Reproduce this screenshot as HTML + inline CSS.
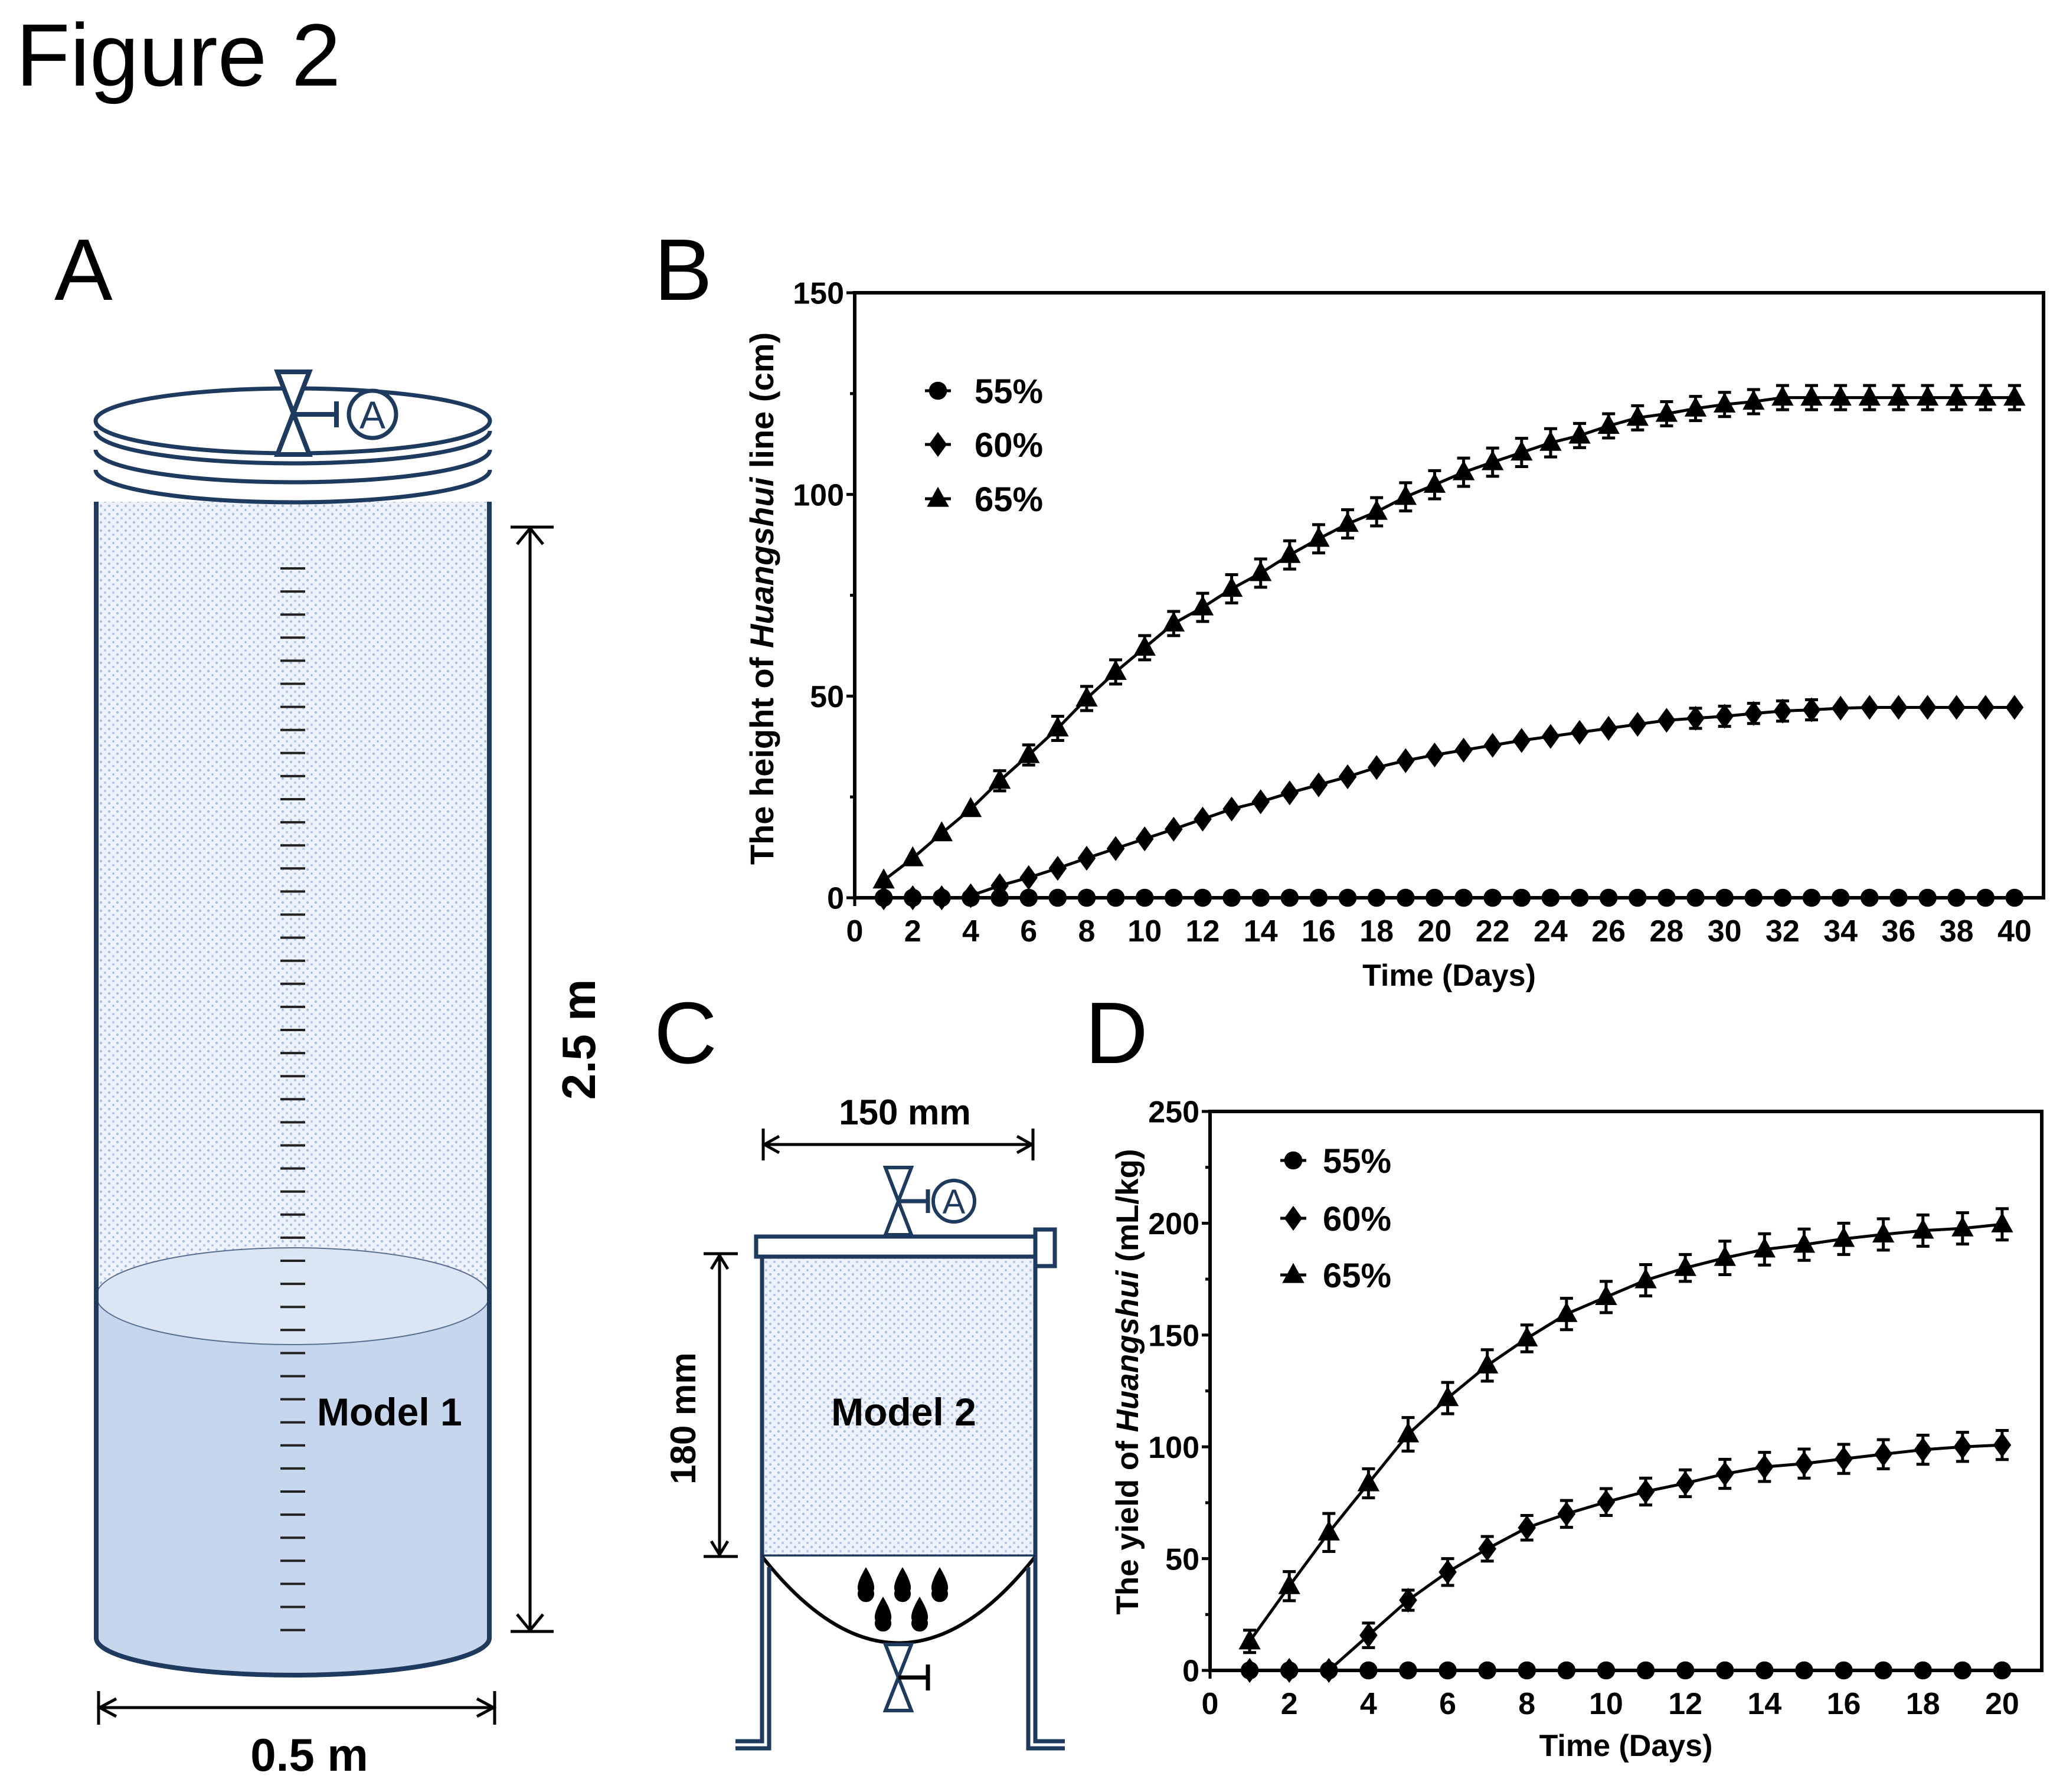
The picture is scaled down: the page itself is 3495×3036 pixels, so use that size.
<!DOCTYPE html>
<html><head><meta charset="utf-8"><style>
html,body{margin:0;padding:0;background:#fff;}
svg{display:block;}
text{font-family:"Liberation Sans",sans-serif;}
</style></head><body>
<svg id="fig" width="3495" height="3036" viewBox="0 0 3495 3036" xmlns="http://www.w3.org/2000/svg">
<defs>
<pattern id="dots" width="14" height="14" patternUnits="userSpaceOnUse">
<rect width="14" height="14" fill="#eef2fa"/>
<circle cx="3" cy="3" r="2.2" fill="#a9bfdf"/>
<circle cx="10" cy="10" r="2.2" fill="#b4c7e4"/>
</pattern>
</defs>
<text x="27" y="145" font-size="150">Figure 2</text>
<text x="92" y="508" font-size="148">A</text>
<text x="1108" y="508" font-size="148">B</text>
<text x="1108" y="1801" font-size="148">C</text>
<text x="1838" y="1801" font-size="148">D</text>

<!-- Panel A -->
<g stroke="#1f3a5f" fill="none">
<path d="M163 850 L163 2775 A333 63 0 0 0 829 2775 L829 850 Z" fill="url(#dots)" stroke="none"/>
<path d="M163 2196 L163 2775 A333 63 0 0 0 829 2775 L829 2196 Z" fill="#c6d6ec" stroke="none"/>
<ellipse cx="496" cy="2196" rx="333" ry="82" fill="#dbe6f4" stroke="#5a6f8f" stroke-width="2"/>
<path d="M163 850 L163 2775 A333 63 0 0 0 829 2775 L829 850" stroke-width="8"/>
<ellipse cx="496" cy="713" rx="334" ry="55" fill="#fff" stroke-width="7"/>
<path d="M162 730 A334 55 0 0 0 830 730" stroke-width="7"/>
<path d="M162 762 A334 55 0 0 0 830 762" stroke-width="7"/>
<path d="M162 796 A334 55 0 0 0 830 796" stroke-width="7"/>
<path d="M470 630 L524 630 L470 770 L524 770 Z" fill="#fff" stroke-width="8"/>
<line x1="497" y1="702" x2="570" y2="702" stroke-width="8"/>
<line x1="570" y1="680" x2="570" y2="724" stroke-width="8"/>
<circle cx="631" cy="702" r="40" fill="#fff" stroke-width="7"/>
<text x="631" y="726" font-size="66" text-anchor="middle" fill="#1f3a5f" stroke="none">A</text>
<g id="scale-ticks" stroke="#222" stroke-width="4"></g>
</g>
<text x="537" y="2415" font-size="66" font-weight="bold">Model 1</text>
<g stroke="#000" stroke-width="5" fill="none">
<line x1="898" y1="895" x2="898" y2="2762"/>
<line x1="865" y1="893" x2="938" y2="893"/><line x1="865" y1="2764" x2="938" y2="2764"/>
<polyline points="876,922 898,895 920,922"/><polyline points="876,2735 898,2762 920,2735"/>
<line x1="167" y1="2893" x2="838" y2="2893"/>
<line x1="167" y1="2865" x2="167" y2="2922"/><line x1="838" y1="2865" x2="838" y2="2922"/>
<polyline points="197,2878 169,2893 197,2908"/><polyline points="808,2878 836,2893 808,2908"/>
</g>
<text transform="translate(1008,1761) rotate(-90)" font-size="80" font-weight="bold" text-anchor="middle">2.5 m</text>
<text x="524" y="3000" font-size="78" font-weight="bold" text-anchor="middle">0.5 m</text>

<!-- Panel C -->
<g stroke="#1f3a5f" fill="none" stroke-width="7">
<rect x="1291" y="2129" width="463" height="508" fill="url(#dots)"/>
<path d="M1291 2637 Q1522 2930 1754 2637" stroke="#000" fill="#fff" stroke-width="6"/>
<rect x="1281" y="2095" width="484" height="34" fill="#fff"/>
<rect x="1754" y="2083" width="33" height="62" fill="#fff"/>
<path d="M1291 2637 L1291 2950 L1246 2950 M1303 2655 L1303 2962 L1246 2962"/>
<path d="M1754 2637 L1754 2950 L1804 2950 M1742 2655 L1742 2962 L1804 2962"/>
<path d="M1500 1978 L1544 1978 L1500 2092 L1544 2092 Z" fill="#fff" stroke-width="6"/>
<line x1="1522" y1="2035" x2="1572" y2="2035"/><line x1="1572" y1="2015" x2="1572" y2="2055"/>
<circle cx="1616" cy="2035" r="35" fill="#fff" stroke-width="6"/>
<text x="1616" y="2056" font-size="58" text-anchor="middle" fill="#1f3a5f" stroke="none">A</text>
<path d="M1500 2786 L1544 2786 L1500 2898 L1544 2898 Z" fill="#fff" stroke-width="6"/>
<line x1="1522" y1="2842" x2="1572" y2="2842" stroke="#000"/><line x1="1572" y1="2820" x2="1572" y2="2864" stroke="#000"/>
</g>
<g fill="#000">
<path d="M1467 2655 Q1485 2685 1480 2695 A14 14 0 1 1 1454 2695 Q1449 2685 1467 2655Z"/>
<path d="M1529 2655 Q1547 2685 1542 2695 A14 14 0 1 1 1516 2695 Q1511 2685 1529 2655Z"/>
<path d="M1592 2655 Q1610 2685 1605 2695 A14 14 0 1 1 1579 2695 Q1574 2685 1592 2655Z"/>
<path d="M1496 2705 Q1514 2735 1509 2745 A14 14 0 1 1 1483 2745 Q1478 2735 1496 2705Z"/>
<path d="M1558 2705 Q1576 2735 1571 2745 A14 14 0 1 1 1545 2745 Q1540 2735 1558 2705Z"/>
</g>
<text x="1531" y="2415" font-size="66" font-weight="bold" text-anchor="middle">Model 2</text>
<g stroke="#000" stroke-width="5" fill="none">
<line x1="1293" y1="1939" x2="1750" y2="1939"/>
<line x1="1293" y1="1912" x2="1293" y2="1966"/><line x1="1750" y1="1912" x2="1750" y2="1966"/>
<polyline points="1320,1925 1295,1939 1320,1953"/><polyline points="1723,1925 1748,1939 1723,1953"/>
<line x1="1219" y1="2126" x2="1219" y2="2635"/>
<line x1="1192" y1="2124" x2="1250" y2="2124"/><line x1="1192" y1="2637" x2="1250" y2="2637"/>
<polyline points="1205,2150 1219,2127 1233,2150"/><polyline points="1205,2611 1219,2634 1233,2611"/>
</g>
<text x="1533" y="1905" font-size="60" font-weight="bold" text-anchor="middle">150 mm</text>
<text transform="translate(1178,2403) rotate(-90)" font-size="60" font-weight="bold" text-anchor="middle">180 mm</text>

<g id="chartB"></g>
<g id="chartD"></g>
</svg>
<script>
const bDays = [1,2,3,4,5,6,7,8,9,10,11,12,13,14,15,16,17,18,19,20,21,22,23,24,25,26,27,28,29,30,31,32,33,34,35,36,37,38,39,40];
const b55 = [0,0,0,0,0,0,0,0,0,0,0,0,0,0,0,0,0,0,0,0,0,0,0,0,0,0,0,0,0,0,0,0,0,0,0,0,0,0,0,0];
const b60 = [0,0,0,0.5,3,5,7.3,9.8,12.2,14.6,17,19.5,22,23.8,26,28,30,32.3,34,35.4,36.6,37.8,39,40,41,42,43,44,44.5,45,45.7,46.3,46.6,47,47.2,47.2,47.2,47.2,47.2,47.2];
const b60err = [0,0,0,0,0,0,0,0,0,0,0,0,0,0,0,0,0,0,0,0,0,0,0,0,0,0,0,0,2.5,2.5,2.5,2.5,2.5,0,0,0,0,0,0,0];
const b65 = [4.3,9.8,16,22,29,35.4,42,49.4,56,62,68,72,76.6,80.5,85,89,92.7,95.7,99.4,102.4,105.5,108,110.4,112.8,114.6,117,119,120,121.3,122.3,123,124,124,124,124,124,124,124,124,124];
const b65err = [0,0,0,0,2.5,2.5,3,3,3,3,3,3.5,3.5,3.5,3.5,3.5,3.5,3.5,3.5,3.5,3.5,3.5,3.5,3.5,3,3,3,3,3,3,3,3,3,3,3,3,3,3,3,3];
const bXTicks = [0,2,4,6,8,10,12,14,16,18,20,22,24,26,28,30,32,34,36,38,40];
const bYTicks = [0,50,100,150];

const dDays = [1,2,3,4,5,6,7,8,9,10,11,12,13,14,15,16,17,18,19,20];
const d55 = [0,0,0,0,0,0,0,0,0,0,0,0,0,0,0,0,0,0,0,0];
const d60 = [0,0,0,15.7,31.4,44,54.4,63.8,70,75.3,80,83.7,87.9,91,92.5,94.6,96.7,98.7,100,100.8];
const d60err = [0,0,0,5.5,4.5,6,5.5,5.5,6,6,6,6,6.5,6.5,6.5,6.5,6.5,6.5,6.5,6.5];
const d65 = [13,37.7,61.7,83.7,105.6,121.8,136.4,148.5,159.4,167,174.5,180,184.5,188.3,190.4,193,195,196.7,197.7,199.5];
const d65err = [5,6.5,8.5,6.5,7.5,7,7,6,7,7,7,6,7.5,7,7,7,7,7,7,7];
const dXTicks = [0,2,4,6,8,10,12,14,16,18,20];
const dYTicks = [0,50,100,150,200,250];

const NS = 'http://www.w3.org/2000/svg';
function mk(parent, tag, attrs){ const e=document.createElementNS(NS,tag); for(const k in attrs) e.setAttribute(k,attrs[k]); parent.appendChild(e); return e; }

const st = document.getElementById('scale-ticks');
for (let y=963; y<=2800; y+=39.1){
  const t = mk(st,'line',{x1:475,x2:517,y1:y,y2:y});
  
  
}

function marker(g, type, cx, cy, s){
  let m;
  if(type==='circle') m = mk(g,'circle',{cx:cx,cy:cy,r:s*0.45});
  else if(type==='diamond') m = mk(g,'path',{d:`M${cx} ${cy-s*0.62}L${cx+s*0.45} ${cy}L${cx} ${cy+s*0.62}L${cx-s*0.45} ${cy}Z`});
  else m = mk(g,'path',{d:`M${cx} ${cy-s*0.6}L${cx+s*0.55} ${cy+s*0.4}L${cx-s*0.55} ${cy+s*0.4}Z`});
  m.setAttribute('fill','#000');
  return m;
}

function drawChart(cfg){
  const g = document.getElementById(cfg.id);
  const X = v => cfg.x0 + (v - 0)/(cfg.xmax) * (cfg.x1 - cfg.x0);
  const Y = v => cfg.y0 - v/cfg.ymax * (cfg.y0 - cfg.y1);
  cfg.xticks.forEach(t=>{
    const l = mk(g,'line',{x1:X(t),x2:X(t),y1:cfg.y0,y2:cfg.y0+14,stroke:'#000','stroke-width':5});
    
    
    const tx = mk(g,'text',{x:X(t),y:cfg.y0+cfg.xlabOff,'font-size':cfg.fs,'font-weight':'bold','text-anchor':'middle'});
    tx.textContent = t;
    
    
  });
  cfg.yticks.forEach(t=>{
    const l = mk(g,'line',{x1:cfg.x0-14,x2:cfg.x0,y1:Y(t),y2:Y(t),stroke:'#000','stroke-width':5});
    
    
    const tx = mk(g,'text',{x:cfg.x0-18,y:Y(t)+cfg.fs*0.36,'font-size':cfg.fs,'font-weight':'bold','text-anchor':'end'});
    tx.textContent = t;
    
    
  });
  for(let i=0;i<cfg.yticks.length-1;i++){
    const v=(cfg.yticks[i]+cfg.yticks[i+1])/2;
    const l = mk(g,'line',{x1:cfg.x0-8,x2:cfg.x0,y1:Y(v),y2:Y(v),stroke:'#000','stroke-width':5});
    
    
  }
  const yt = mk(g,'text',{transform:`translate(${cfg.ytx},${cfg.yty}) rotate(-90)`,'font-size':cfg.ytfs,'font-weight':'bold','text-anchor':'middle'});
  yt.innerHTML = cfg.ytitle;
  
  
  const xt = mk(g,'text',{x:(cfg.x0+cfg.x1)/2,y:cfg.xty,'font-size':cfg.tfs,'font-weight':'bold','text-anchor':'middle'});
  xt.textContent = 'Time (Days)';
  
  

  cfg.series.forEach(s=>{
    const sg = mk(g,'g',{});
    
    
    let pts=[];
    s.vals.forEach((v,i)=>{ if(s.start===undefined || cfg.days[i]>=s.start) pts.push(X(cfg.days[i])+','+Y(v)); });
    const pl = mk(sg,'polyline',{points:pts.join(' '),fill:'none',stroke:'#000','stroke-width':5});
    
    
    s.vals.forEach((v,i)=>{
      const cx=X(cfg.days[i]), cy=Y(v);
      const e = s.err ? s.err[i] : 0;
      if(e>0){
        const eb = mk(sg,'path',{d:`M${cx} ${Y(v+e)}V${Y(v-e)}M${cx-11} ${Y(v+e)}H${cx+11}M${cx-11} ${Y(v-e)}H${cx+11}`,stroke:'#000','stroke-width':5,fill:'none'});
        
        
      }
      const m = marker(sg, s.type, cx, cy, cfg.ms);
      
      
    });
  });
  const fr = mk(g,'rect',{x:cfg.x0,y:cfg.y1,width:cfg.x1-cfg.x0,height:cfg.y0-cfg.y1,fill:'none',stroke:'#000','stroke-width':6});
  
  
  cfg.series.forEach((s,i)=>{
    const ly = cfg.ly[i];
    const lg = mk(g,'g',{});
    
    
    mk(lg,'line',{x1:cfg.lx-22,x2:cfg.lx+22,y1:ly,y2:ly,stroke:'#000','stroke-width':5});
    marker(lg,s.type,cfg.lx,ly,cfg.ms);
    const t = mk(lg,'text',{x:cfg.lx+cfg.ltOff,y:ly+cfg.lfs*0.36,'font-size':cfg.lfs,'font-weight':'bold'});
    t.textContent = s.name;
  });
}

drawChart({id:'chartB',x0:1448,x1:3462,xmax:41,y0:1521,y1:496,ymax:150,days:bDays,
  xticks:bXTicks,yticks:bYTicks,fs:52,tfs:52,ytfs:56,xlabOff:74,ms:34,
  ytx:1310,yty:1014,xty:1670,
  ytitle:'The height of <tspan font-style="italic">Huangshui</tspan> line (cm)',
  series:[{name:'55%',type:'circle',vals:b55},{name:'60%',type:'diamond',vals:b60,err:b60err,start:4},{name:'65%',type:'triangle',vals:b65,err:b65err}],
  lx:1589,ly:[662,753,845],ltOff:62,lfs:58});
drawChart({id:'chartD',x0:2050,x1:3459,xmax:21,y0:2830,y1:1883,ymax:250,days:dDays,
  xticks:dXTicks,yticks:dYTicks,fs:52,tfs:52,ytfs:53,xlabOff:74,ms:34,
  ytx:1928,yty:2341,xty:2975,
  ytitle:'The yield of <tspan font-style="italic">Huangshui</tspan> (mL/kg)',
  series:[{name:'55%',type:'circle',vals:d55},{name:'60%',type:'diamond',vals:d60,err:d60err,start:3},{name:'65%',type:'triangle',vals:d65,err:d65err}],
  lx:2191,ly:[1966,2064,2160],ltOff:50,lfs:58});
</script>
</body></html>
